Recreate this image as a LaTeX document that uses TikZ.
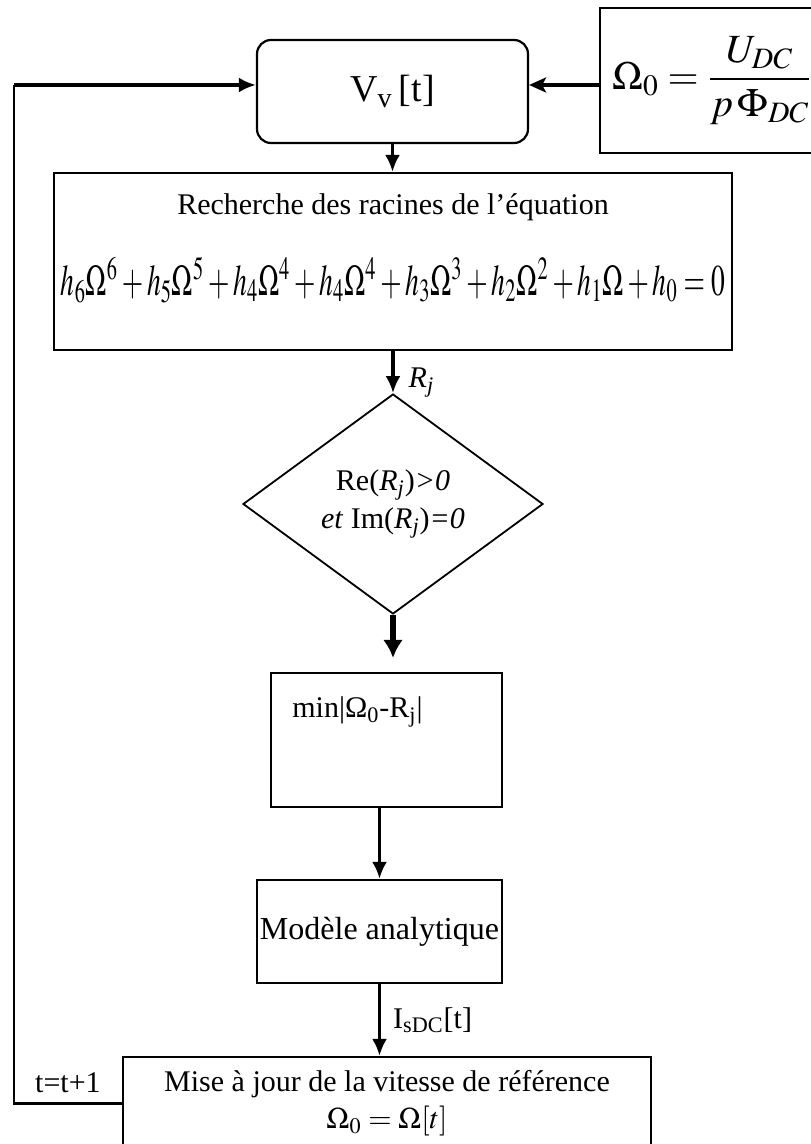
\documentclass[tikz,border=0pt]{standalone}
\usepackage{amsmath}
\usepackage{mathptmx}
\usepackage[no-math]{fontspec}
\setmainfont{Liberation Serif}
\usepackage{graphicx}
\usepackage{tikz}
\usetikzlibrary{positioning,arrows.meta,shapes.geometric}

\begin{document}
\begin{tikzpicture}[x=0.5pt, y=-0.5pt,
  box/.style={draw, line width=1.1pt, inner sep=0pt, align=center, font=\fontsize{15}{18.5}\selectfont},
  roundbox/.style={box, rounded corners=7pt},
  decision/.style={draw, diamond, line width=0.9pt, inner sep=0pt, minimum width=150pt, minimum height=110pt, align=center, font=\fontsize{15}{19}\selectfont},
  txt/.style={inner sep=0pt, align=center, font=\fontsize{15}{18.5}\selectfont},
  arrow/.style={-{Latex[length=8.5pt,width=7.5pt]}, line width=1.7pt},
  bigarrow/.style={-{Latex[length=9pt,width=10pt]}, line width=2.6pt},
  omarrow/.style={-{Stealth[length=8.5pt,width=7.5pt,inset=2pt]}, line width=1.9pt},
  loopline/.style={line width=1.2pt}
]
\useasboundingbox (0,0) rectangle (810,1144);

\node[roundbox, minimum width=135.5pt, minimum height=51.5pt, font=\fontsize{19}{23}\selectfont] (vv) at (392.5,91.5) {V\textsubscript{v}\,[t]};
\node[box, minimum width=125pt, minimum height=72.5pt, font=\fontsize{20}{24}\selectfont] (om) at (725,80.5) {$\Omega_0 = \dfrac{U_{DC}}{p\,\Phi_{DC}}$\hspace{13pt}};

\node[box, minimum width=339pt, minimum height=88.5pt] (rech) at (393,261.5) {};
\node[txt] (rechtxt) at (393,207) {Recherche des racines de l'équation};
\node[txt] (poly) at (393,280) {\resizebox{332pt}{19pt}{$h_6\Omega^6+h_5\Omega^5+h_4\Omega^4+h_4\Omega^4+h_3\Omega^3+h_2\Omega^2+h_1\Omega+h_0=0$}};

\node[decision] (dia) at (393,504) {Re(\textit{R}\textsubscript{\textit{j}})\textit{>0}\\\textit{et} Im(\textit{R}\textsubscript{\textit{j}})\textit{=0}};

\node[box, minimum width=115.5pt, minimum height=67pt] (mn) at (386.5,740) {};
\node[txt, anchor=west] (mntxt) at (292,712) {min|Ω\textsubscript{0}-R\textsubscript{j}|};

\node[box, minimum width=122.5pt, minimum height=51.5pt, font=\fontsize{16}{19}\selectfont] (mod) at (379.5,931.5) {Modèle analytique};

\node[box, minimum width=264pt, minimum height=46.5pt] (maj) at (387,1103.5) {Mise à jour de la vitesse de référence\\$\Omega_0 = \Omega[t]$};

\coordinate (lp) at (14,0);
\coordinate (vvin) at ([yshift=3.25pt]vv.west);
\coordinate (vvout) at ([yshift=3.25pt]vv.east);

\draw[loopline] (maj.west) -- node[txt, above=5pt] (tinc) {t=t+1} (lp |- maj.west) -- (lp |- vvin);
\draw[arrow] (lp |- vvin) -- (vvin);
\draw[omarrow] (om.west |- vvout) -- (vvout);
\draw[arrow] (vv.south) -- (vv.south |- rech.north);
\draw[arrow] (rech.south) -- node[txt, pos=0.75, right=7pt] (rj) {\textit{R}\textsubscript{\textit{j}}} (dia.north);
\draw[bigarrow, shorten >=7pt] (dia.south) -- (dia.south |- mn.north);
\draw[arrow] (mod.north |- mn.south) -- (mod.north);
\draw[arrow] (mod.south) -- node[txt, right=6pt] (isdc) {I\textsubscript{sDC}[t]} (mod.south |- maj.north);
\end{tikzpicture}
\end{document}
